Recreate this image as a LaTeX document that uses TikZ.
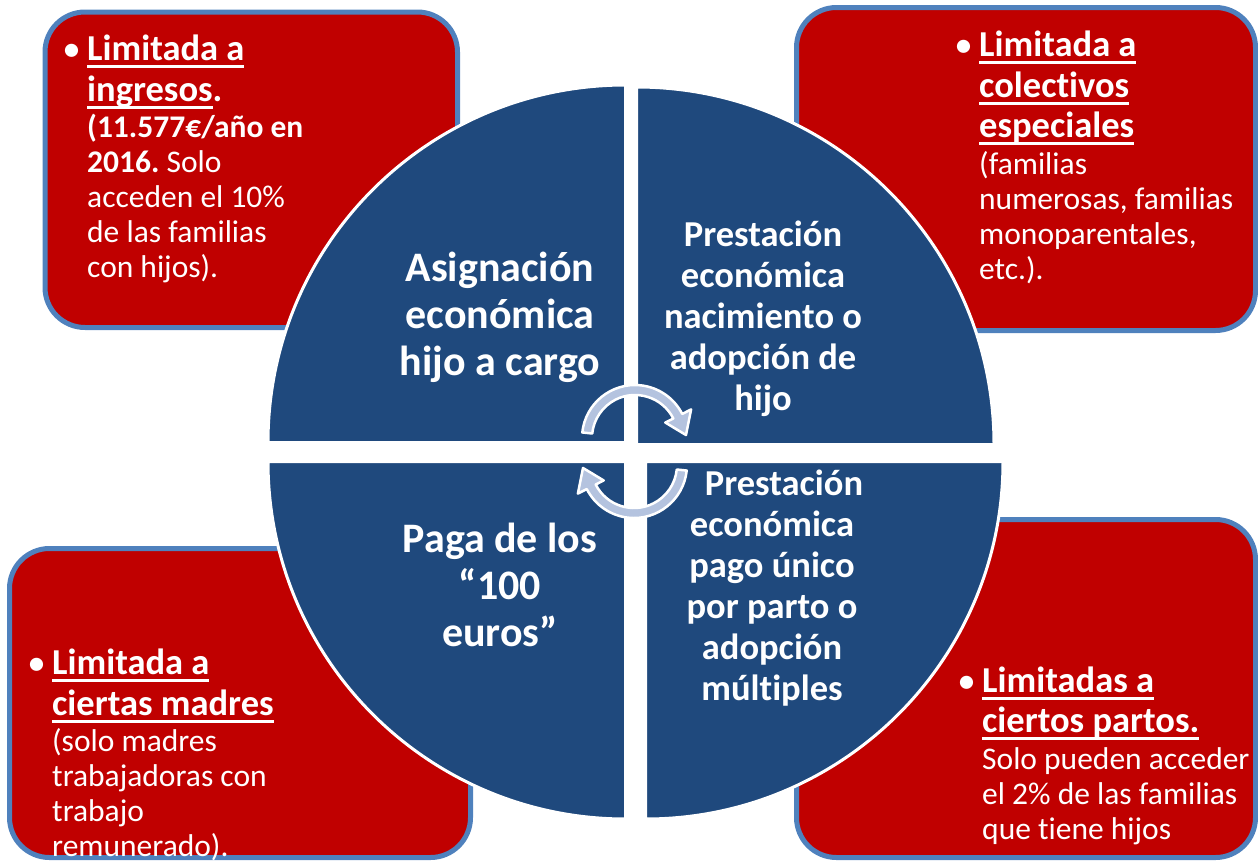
\documentclass[tikz,border=0pt]{standalone}
\usepackage{fontspec}
\setmainfont{Carlito}[Ligatures=NoCommon]
\usetikzlibrary{calc}
\definecolor{boxred}{HTML}{C00000}
\definecolor{boxblue}{HTML}{4F81BD}
\definecolor{pieblue}{HTML}{1F497D}
\definecolor{arrowblue}{HTML}{B4C3DF}
\frenchspacing
\newsavebox{\ulbox}
\newcommand{\ulne}[1]{\sbox{\ulbox}{#1}\rlap{\rule[-7pt]{\wd\ulbox}{3pt}}\usebox{\ulbox}}
\newcommand{\hd}[1]{{\fontsize{36.5}{35}\selectfont\bfseries #1}}
\newcommand{\bul}{\llap{{\fontsize{31}{31}\selectfont\raisebox{1.5pt}{•}}\hspace{8pt}}}
\tikzset{
  limbox/.style={fill=boxred, draw=boxblue, line width=5pt, rounded corners=40pt},
  quad/.style={fill=pieblue, draw=white, line width=3pt},
  boxtext/.style={anchor=north west, inner sep=0pt, text=white, align=left,
    font={\fontsize{31.5}{35}\selectfont\lineskiplimit=-100pt\lineskip=0pt}},
  quadtextL/.style={inner sep=0pt, text=white, align=center,
    font={\bfseries\fontsize{42}{47}\selectfont\lineskiplimit=-100pt\lineskip=0pt}},
  quadtextR/.style={inner sep=0pt, text=white, align=center,
    font={\bfseries\fontsize{36.5}{41}\selectfont\lineskiplimit=-100pt\lineskip=0pt}},
  cyclearrow/.style={fill=arrowblue, draw=white, line width=2.5pt, line join=round}
}
\begin{document}
\begin{tikzpicture}[x=1pt,y=1pt]
\useasboundingbox (0,0) rectangle (1258,-862);
% boxes
\draw[limbox] (45,-12) rectangle (457.5,-327.5);
\draw[limbox] (796.5,-7.5) rectangle (1255.5,-330.5);
\draw[limbox] (9.5,-548.5) rectangle (470.5,-857.5);
\draw[limbox] (796.5,-519.5) rectangle (1255.5,-857.5);
% quadrants
\filldraw[quad] (625.5,-442.5) -- (268,-442.5) arc[start angle=180,end angle=90,radius=357.5] -- cycle;
\filldraw[quad] (636.5,-444.5) -- (636.5,-87) arc[start angle=90,end angle=0,radius=357.5] -- cycle;
\filldraw[quad] (625.5,-461.5) -- (268,-461.5) arc[start angle=180,end angle=270,radius=357.5] -- cycle;
\filldraw[quad] (645.5,-461.5) -- (1003,-461.5) arc[start angle=0,end angle=-90,radius=357.5] -- cycle;
% box texts
\node[boxtext] (tltext) at (87,-35) {\hd{\bul\ulne{Limitada a}}\\[6pt]
\hd{\ulne{ingresos}.}\\[1pt]
\textbf{(11.577€/año en}\\
\textbf{2016.} Solo\\
acceden el 10\%\\
de las familias\\
con hijos).};
\node[boxtext] (trtext) at (979,-31) {\hd{\bul\ulne{Limitada a}}\\[6pt]
\hd{\ulne{colectivos}}\\[5pt]
\hd{\ulne{especiales}}\\[2pt]
(familias\\
numerosas, familias\\
monoparentales,\\
etc.).};
\node[boxtext] (bltext) at (52,-649) {\hd{\bul\ulne{Limitada a}}\\[6pt]
\hd{\ulne{ciertas madres}}\\[1pt]
(solo madres\\
trabajadoras con\\
trabajo\\
remunerado).};
\node[boxtext] (brtext) at (982,-667) {\hd{\bul\ulne{Limitadas a}}\\[5pt]
\hd{\ulne{ciertos partos.}}\\[2pt]
Solo pueden acceder\\
el 2\% de las familias\\
que tiene hijos};
% quadrant texts
\node[quadtextL] (asig) at (500,-317) {Asignación\\económica\\hijo a cargo};
\node[quadtextR] (naci) at (763,-319) {Prestación\\económica\\nacimiento o\\adopción de\\hijo};
\node[quadtextL] (paga) at (500,-585) {Paga de los\\“100\\euros”};
\node[quadtextR] (mult) at (772,-588) {\hspace*{24pt}Prestación\\económica\\pago único\\por parto o\\adopción\\múltiples};
% cycle arrows
\coordinate (ca) at (635,-438);
\coordinate (cb) at (634,-465);
\filldraw[cyclearrow] ($(ca)+(174:53)$) arc[start angle=174,end angle=27,radius=53]
  -- ($(ca)+(27:63)$) -- ($(ca)+(51,3)$) -- ($(ca)+(27:34)$) -- ($(ca)+(27:43)$)
  arc[start angle=27,end angle=174,radius=43] -- cycle;
\filldraw[cyclearrow] ($(cb)+(-6:53)$) arc[start angle=-6,end angle=-153,radius=53]
  -- ($(cb)+(-153:63)$) -- ($(cb)+(-51,-3)$) -- ($(cb)+(-153:34)$) -- ($(cb)+(-153:43)$)
  arc[start angle=-153,end angle=-6,radius=43] -- cycle;
\end{tikzpicture}
\end{document}
